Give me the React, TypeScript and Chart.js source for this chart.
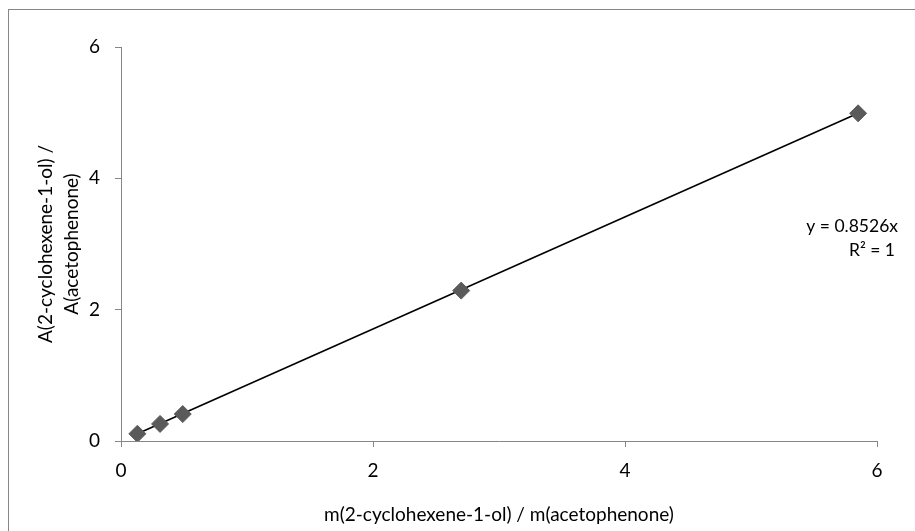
import React, { useEffect, useRef } from "react";
import { Chart, registerables } from "chart.js";

Chart.register(...registerables);

const xValues = [0.13, 0.31, 0.49, 2.7, 5.85];
const yValues = [0.11, 0.26, 0.41, 2.29, 4.99];
const trendX = [0.13, 5.85];
const trendY = [0.11, 4.99];
const xTicks = [0, 2, 4, 6];
const yTicks = [0, 2, 4, 6];
const equationLines = ["y = 0.8526x", "R² = 1"];
const xTitle = "m(2-cyclohexene-1-ol) / m(acetophenone)";
const yTitle = ["A(2-cyclohexene-1-ol) /", "A(acetophenone)"];

const FONT = "Lato";
const AXIS_COLOR = "#868686";

export default function App() {
  const ref = useRef<HTMLCanvasElement | null>(null);
  useEffect(() => {
    if (!ref.current) return;
    const eqPlugin = {
      id: "eq",
      afterDatasetsDraw(chart: any) {
        const { ctx, chartArea } = chart;
        ctx.save();
        ctx.font = `17.5px ${FONT}`;
        ctx.fillStyle = "#000";
        ctx.textAlign = "right";
        ctx.textBaseline = "middle";
        ctx.fillText(equationLines[0], chartArea.right + 21, chartArea.top + 179);
        ctx.fillText(equationLines[1], chartArea.right + 18, chartArea.top + 203);
        ctx.restore();
      },
    };
    const chart = new Chart(ref.current, {
      type: "scatter",
      data: {
        datasets: [
          {
            data: xValues.map((x, i) => ({ x, y: yValues[i] })),
            pointStyle: "rectRot",
            pointRadius: 8.5,
            pointBackgroundColor: "#5a5a5a",
            pointBorderColor: "#5a5a5a",
            pointBorderWidth: 1,
            showLine: false,
          },
          {
            data: trendX.map((x, i) => ({ x, y: trendY[i] })),
            showLine: true,
            borderColor: "#000",
            borderWidth: 1.6,
            pointRadius: 0,
          },
        ],
      },
      options: {
        animation: false,
        responsive: true,
        maintainAspectRatio: false,
        layout: { padding: { top: 37, right: 38, bottom: 0, left: 0 } },
        plugins: { legend: { display: false }, tooltip: { enabled: false } },
        scales: {
          x: {
            type: "linear",
            min: 0,
            max: 6,
            afterBuildTicks(scale: any) {
              scale.ticks = xTicks.map((v) => ({ value: v }));
            },
            afterFit(scale: any) {
              scale.height = 90;
            },
            grid: { drawOnChartArea: false, drawTicks: true, tickLength: 6, color: AXIS_COLOR },
            border: { color: AXIS_COLOR, width: 1 },
            ticks: { color: "#000", font: { family: FONT, size: 19 }, padding: 12, maxRotation: 0 },
            title: {
              display: true,
              text: xTitle,
              color: "#000",
              font: { family: FONT, size: 19, lineHeight: 1.2 },
              padding: { top: 0, bottom: 5 },
            },
          },
          y: {
            type: "linear",
            min: 0,
            max: 6,
            afterBuildTicks(scale: any) {
              scale.ticks = yTicks.map((v) => ({ value: v }));
            },
            afterFit(scale: any) {
              scale.width = 112;
            },
            grid: { drawOnChartArea: false, drawTicks: true, tickLength: 6, color: AXIS_COLOR },
            border: { color: AXIS_COLOR, width: 1 },
            ticks: { color: "#000", font: { family: FONT, size: 19 }, padding: 15 },
            title: {
              display: true,
              text: yTitle,
              color: "#000",
              font: { family: FONT, size: 19, lineHeight: 1.35 },
              padding: { top: 24, bottom: 0 },
            },
          },
        },
      },
      plugins: [eqPlugin],
    });
    return () => chart.destroy();
  }, []);
  return (
    <div
      style={{
        position: "fixed",
        left: 8,
        top: 9,
        width: 907,
        height: 522,
        boxSizing: "border-box",
        borderLeft: `1px solid ${AXIS_COLOR}`,
        borderTop: `1px solid ${AXIS_COLOR}`,
        background: "#fff",
      }}
    >
      <canvas ref={ref} />
    </div>
  );
}
